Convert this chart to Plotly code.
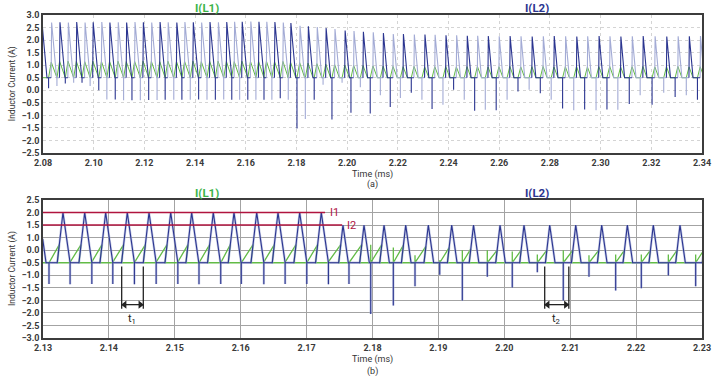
import plotly.graph_objects as go

# ================= Panel (a): 2.08 - 2.34 ms =================
A_BASE = 0.5
A_PEAK_T = [2.0796, 2.0834, 2.0867, 2.0900, 2.0933, 2.0966, 2.0998, 2.1032, 2.1064, 2.1097, 2.1130,
            2.1163, 2.1196, 2.1229, 2.1262, 2.1294, 2.1328, 2.1360, 2.1393, 2.1426, 2.1459,
            2.1492, 2.1525, 2.1556, 2.1586, 2.1620, 2.1652, 2.1683, 2.1715, 2.1748, 2.1778,
            2.1814, 2.1847, 2.1882, 2.1917, 2.1952, 2.1992, 2.2027, 2.2064, 2.2103, 2.2143,
            2.2182, 2.2222, 2.2265, 2.2307, 2.2347, 2.2390, 2.2432, 2.2474, 2.2515, 2.2557,
            2.2600, 2.2643, 2.2686, 2.2730, 2.2774, 2.2817, 2.2862, 2.2906, 2.2949, 2.2994,
            2.3037, 2.3080, 2.3125, 2.3168, 2.3215, 2.3261, 2.3306, 2.3350, 2.3394]
A_PEAK_I = [2.70,
            2.70, 2.71, 2.70, 2.72, 2.70, 2.71, 2.72, 2.70, 2.71, 2.70,
            2.72, 2.71, 2.70, 2.72, 2.71, 2.70, 2.72, 2.71, 2.70, 2.72,
            2.71, 2.72, 2.73, 2.73, 2.74, 2.73, 2.73, 2.72, 2.70,
            2.68, 2.57, 2.55, 2.52, 2.48, 2.44, 2.38, 2.36, 2.33, 2.31,
            2.28, 2.24, 2.24, 2.22, 2.22, 2.21, 2.19, 2.19, 2.17, 2.17,
            2.16, 2.15, 2.16, 2.15, 2.14, 2.15, 2.16, 2.15, 2.14, 2.15,
            2.16, 2.15, 2.14, 2.15, 2.16, 2.15, 2.14, 2.15, 2.15, 2.16]
A_SPIKE_I = [0.08, 0.17, 0.27, 0.30, 0.30, 0.17, 0.00, -0.37,
             -0.37, -0.40, -0.40, -0.40, -0.39, -0.39, -0.38, -0.38, -0.38, -0.38, -0.37, -0.38, -0.38, -0.37,
             -0.38, -0.38, -0.38, -0.38, -0.38, -0.38, -0.32, -0.38,
             -1.52, -1.15, -0.38, 0.22, -1.17, 0.30, -0.90, 0.12, -0.93, -0.20,
             -0.67, -0.31, -0.10, -0.38, -0.75, -0.58, 0.02, -0.38, -0.82, -0.78,
             -0.80, -0.38, -0.05, 0.02, -0.12, -0.38, -0.73, -0.80, -0.77, -0.80,
             -0.77, -0.78, -0.55, -0.20, -0.58, -0.10, -0.27, -0.20, -0.38]
A_GREEN_TOP = [1.12, 1.15, 1.16, 1.15, 1.14, 1.16, 1.15, 1.15, 1.16, 1.14,
               1.15, 1.16, 1.15, 1.14, 1.16, 1.15, 1.15, 1.16, 1.14, 1.15,
               1.16, 1.15, 1.14, 1.16, 1.15, 1.15, 1.16, 1.14, 1.15, 1.12,
               1.10, 1.08, 1.06, 1.04, 1.02, 1.00, 0.99, 0.98, 0.97, 0.96,
               0.95, 0.94, 0.95, 0.93, 0.94, 0.95, 0.93, 0.94, 0.95, 0.93,
               0.94, 0.95, 0.93, 0.94, 0.95, 0.93, 0.94, 0.95, 0.93, 0.94,
               0.95, 0.93, 0.94, 0.95, 0.93, 0.94, 0.95, 0.93, 0.94]
A_RISE_RATE = 11000.0   # A/ms
A_FALL_RATE = 1120.0    # A/ms
A_SPIKE_LEAD = 0.0012   # ms before next peak
A_XTICKS = [2.08, 2.10, 2.12, 2.14, 2.16, 2.18, 2.20, 2.22, 2.24, 2.26, 2.28, 2.30, 2.32, 2.34]
A_XTICKTEXT = ["2.08", "2.10", "2.12", "2.14", "2.16", "2.18", "2.20", "2.22", "2.24", "2.26",
               "2.28", "2.30", "2.32", "2.34"]
A_YTICKS = [3.0, 2.5, 2.0, 1.5, 1.0, 0.5, 0.0, -0.5, -1.0, -1.5, -2.0, -2.5]
A_YTICKTEXT = ["3.0", "2.5", "2.0", "1.5", "1.0", "0.5", "0.0", "\u22120.5", "\u22121.0", "\u22121.5",
               "\u22122.0", "\u22122.5"]

# ================= Panel (b): 2.13 - 2.23 ms =================
B_BASE = 0.0
B_PEAK_T = [2.12995, 2.13303, 2.13633, 2.13951, 2.14279, 2.14609, 2.14938, 2.15256, 2.15584, 2.15898,
            2.16243, 2.16566, 2.16895, 2.17223, 2.17552, 2.17871, 2.18175, 2.18504, 2.18847, 2.19202,
            2.19533, 2.19935, 2.20299, 2.20689, 2.21084, 2.21478, 2.21867, 2.22261, 2.22666, 2.23070]
B_PEAK_I = [0.95, 2.0, 2.0, 2.0, 2.0, 2.0, 2.0, 2.0, 2.0, 2.0,
            2.0, 2.0, 2.0, 2.0, 1.5, 1.5, 1.5, 1.5, 1.5, 1.5,
            1.5, 1.5, 1.5, 1.5, 1.5, 1.5, 1.5, 1.5, 1.5, 1.5]
B_SPIKE_T = [2.13091, 2.13405, 2.13733, 2.14052, 2.14385, 2.14710, 2.15038, 2.15367, 2.15697, 2.16009,
             2.16343, 2.16668, 2.17002, 2.17320, 2.17643, 2.17973, 2.18316, 2.18645, 2.19020, 2.19363,
             2.19742, 2.20121, 2.20501, 2.20895, 2.21285, 2.21690, 2.22079, 2.22489, 2.22904]
B_SPIKE_I = [-0.85, -0.86, -0.85, -0.85, -0.86, -0.85, -0.85, -0.86, -0.85, -0.85,
             -0.86, -0.85, -0.85, -0.86, -0.85, -2.04, -1.70, -0.94, -0.48, -1.51,
             -0.56, -0.99, -0.38, -1.51, -0.56, -1.11, -1.02, -0.51, -0.94]
B_GREEN_TICK = [0, 0, 0, 0, 0, 0, 0, 0, 0, 0,
                0, 0, 0, 0, 0, 0.72, 0.61, 0.30, 0.10, 0.50,
                0.50, 0.45, 0.33, 0.50, 0.30, 0.33, 0.33, 0.33, 0.33]
B_GREEN_TOP = [0.72, 0.72, 0.72, 0.72, 0.72, 0.72, 0.72, 0.72, 0.72, 0.72,
               0.72, 0.72, 0.72, 0.72, 0.72, 0.72, 0.70, 0.65, 0.60, 0.55,
               0.50, 0.50, 0.50, 0.50, 0.50, 0.50, 0.50, 0.50, 0.50]
B_RISE_RATE = 2300.0
B_FALL_RATE = 1850.0
B_I1 = 2.0
B_I1_END = 2.1728
B_I2 = 1.5
B_I2_END = 2.1754
B_T1 = [2.14194, 2.14522]
B_T2 = [2.20613, 2.20979]
B_MARK_Y = [-0.15, -1.83]
B_ARROW_Y = -1.67
B_LABEL_Y = -2.23
B_XTICKS = [2.13, 2.14, 2.15, 2.16, 2.17, 2.18, 2.19, 2.20, 2.21, 2.22, 2.23]
B_XTICKTEXT = ["2.13", "2.14", "2.15", "2.16", "2.17", "2.18", "2.19", "2.20", "2.21", "2.22", "2.23"]
B_YTICKS = [2.5, 2.0, 1.5, 1.0, 0.5, 0.0, -0.5, -1.0, -1.5, -2.0, -2.5, -3.0]
B_YTICKTEXT = ["2.5", "2.0", "1.5", "1.0", "0.0", "\u22120.5", "\u22121.0", "\u22121.5", "\u22122.0",
               "\u22122.0", "\u22122.5", "\u22123.0"]

DARK = "#2b3590"
LIGHT = "#a3abd5"
GREEN = "#62bb46"
GREEN_TXT = "#3cb44a"
RED = "#b0143f"
INK = "#222222"
FONT = "Roboto, Liberation Sans, sans-serif"


def blue_segments(peak_t, peak_i, spike_t, spike_i, base, rise, fall):
    segs = []
    n = len(peak_t)
    for k in range(n):
        tp, pk = peak_t[k], peak_i[k]
        xs, ys = [], []
        if k > 0:
            xs.append(tp - (pk - base) / rise)
            ys.append(base)
        xs.append(tp)
        ys.append(pk)
        fe = tp + (pk - base) / fall
        xs.append(fe)
        ys.append(base)
        if k < len(spike_t):
            ts = max(spike_t[k], fe)
            xs += [ts, ts, ts]
            ys += [base, spike_i[k], base]
        if k + 1 < n:
            xs.append(peak_t[k + 1] - (peak_i[k + 1] - base) / rise)
            ys.append(base)
        segs.append((xs, ys))
    return segs


fig = go.Figure()

# ---------- panel (a) ----------
a_spike_t = [A_PEAK_T[k + 1] - A_SPIKE_LEAD for k in range(len(A_PEAK_T) - 1)]
gx, gy = [2.075], [A_BASE]
for k in range(len(a_spike_t)):
    tp1, pk1 = A_PEAK_T[k + 1], A_PEAK_I[k + 1]
    gt = A_GREEN_TOP[k]
    tm = tp1 - (pk1 - gt) / A_RISE_RATE
    fe = tp1 + (pk1 - A_BASE) / A_FALL_RATE
    gx += [a_spike_t[k], tm, fe]
    gy += [A_BASE, gt, A_BASE]
gx.append(2.345)
gy.append(A_BASE)
fig.add_trace(go.Scatter(x=gx, y=gy, mode="lines", line=dict(color=GREEN, width=1.0),
                         xaxis="x", yaxis="y", hoverinfo="skip"))
segs = blue_segments(A_PEAK_T, A_PEAK_I, a_spike_t, A_SPIKE_I, A_BASE, A_RISE_RATE, A_FALL_RATE)
for parity, col in ((1, LIGHT), (0, DARK)):
    bx, by = [], []
    for k, (xs, ys) in enumerate(segs):
        if k % 2 == parity:
            bx += xs + [None]
            by += ys + [None]
    fig.add_trace(go.Scatter(x=bx, y=by, mode="lines", line=dict(color=col, width=1.1),
                             xaxis="x", yaxis="y", hoverinfo="skip"))

# ---------- panel (b) ----------
gx, gy = [2.125], [B_BASE]
for k in range(len(B_SPIKE_T)):
    ts = B_SPIKE_T[k]
    tp1, pk1 = B_PEAK_T[k + 1], B_PEAK_I[k + 1]
    gt = B_GREEN_TOP[k]
    rs = tp1 - (pk1 - B_BASE) / B_RISE_RATE
    tm = tp1 - (pk1 - gt) / B_RISE_RATE
    gx.append(ts)
    gy.append(B_BASE)
    if B_GREEN_TICK[k] > 0:
        gx += [ts, ts]
        gy += [B_GREEN_TICK[k], B_BASE]
    gx += [tm, rs]
    gy += [gt, B_BASE]
gx.append(2.235)
gy.append(B_BASE)
fig.add_trace(go.Scatter(x=gx, y=gy, mode="lines", line=dict(color=GREEN, width=1.3),
                         xaxis="x2", yaxis="y2", hoverinfo="skip"))
segs = blue_segments(B_PEAK_T, B_PEAK_I, B_SPIKE_T, B_SPIKE_I, B_BASE, B_RISE_RATE, B_FALL_RATE)
bx, by = [], []
for xs, ys in segs:
    bx += xs
    by += ys
fig.add_trace(go.Scatter(x=bx, y=by, mode="lines", line=dict(color=LIGHT, width=2.4),
                         opacity=0.6, xaxis="x2", yaxis="y2", hoverinfo="skip"))
fig.add_trace(go.Scatter(x=bx, y=by, mode="lines", line=dict(color=DARK, width=1.1),
                         xaxis="x2", yaxis="y2", hoverinfo="skip"))

fig.add_trace(go.Scatter(x=[2.13, B_I1_END, None, 2.13, B_I2_END], y=[B_I1, B_I1, None, B_I2, B_I2],
                         mode="lines", line=dict(color=RED, width=1.5),
                         xaxis="x2", yaxis="y2", hoverinfo="skip"))

# t1 / t2 dimension markers
mx, my = [], []
for tt in B_T1 + B_T2:
    mx += [tt, tt, None]
    my += [B_MARK_Y[0], B_MARK_Y[1], None]
for pair in (B_T1, B_T2):
    mx += [pair[0], pair[1], None]
    my += [B_ARROW_Y, B_ARROW_Y, None]
fig.add_trace(go.Scatter(x=mx, y=my, mode="lines", line=dict(color=INK, width=1.3),
                         xaxis="x2", yaxis="y2", hoverinfo="skip"))
head_off = 0.00045
hx = [B_T1[0] + head_off, B_T2[0] + head_off, B_T1[1] - head_off, B_T2[1] - head_off]
hy = [B_ARROW_Y] * 4
hs = ["triangle-left", "triangle-left", "triangle-right", "triangle-right"]
fig.add_trace(go.Scatter(x=hx, y=hy, mode="markers",
                         marker=dict(symbol=hs, size=7, color=INK, line=dict(width=0)),
                         xaxis="x2", yaxis="y2", hoverinfo="skip"))

annotations = []
for pair, lab in ((B_T1, "t<sub>1</sub>"), (B_T2, "t<sub>2</sub>")):
    mid = (pair[0] + pair[1]) / 2
    annotations.append(dict(x=mid, y=B_LABEL_Y, xref="x2", yref="y2", text=lab, showarrow=False,
                            yanchor="middle", font=dict(family=FONT, size=11, color=INK)))
annotations.append(dict(x=B_I1_END, y=B_I1, xref="x2", yref="y2", text="I1", showarrow=False,
                        xanchor="left", yanchor="middle", xshift=3,
                        font=dict(family=FONT, size=11, color=RED)))
annotations.append(dict(x=B_I2_END, y=B_I2, xref="x2", yref="y2", text="I2", showarrow=False,
                        xanchor="left", yanchor="middle", xshift=3,
                        font=dict(family=FONT, size=11, color=RED)))

for yy in (1.0217, 0.4489):
    annotations.append(dict(x=0.2489, y=yy, xref="paper", yref="paper", text="<b>I(L1)</b>",
                            showarrow=False, xanchor="center", yanchor="middle",
                            font=dict(family=FONT, size=11.5, color=GREEN_TXT)))
    annotations.append(dict(x=0.7496, y=yy, xref="paper", yref="paper", text="<b>I(L2)</b>",
                            showarrow=False, xanchor="center", yanchor="middle",
                            font=dict(family=FONT, size=11.5, color=DARK)))
for yt, yl, lab in ((0.5077, 0.4737, "(a)"), (-0.0681, -0.1022, "(b)")):
    annotations.append(dict(x=0.5, y=yt, xref="paper", yref="paper", text="Time (ms)",
                            showarrow=False, xanchor="center", yanchor="middle",
                            font=dict(family=FONT, size=9, color="#333333")))
    annotations.append(dict(x=0.5, y=yl, xref="paper", yref="paper", text=lab,
                            showarrow=False, xanchor="center", yanchor="middle",
                            font=dict(family=FONT, size=9, color="#333333")))
for yy in (0.786, 0.2136):
    annotations.append(dict(x=-0.047, y=yy, xref="paper", yref="paper", text="Inductor Current (A)",
                            textangle=-90, showarrow=False, xanchor="center", yanchor="middle",
                            font=dict(family=FONT, size=8.5, color="#333333")))

tickfont = dict(family=FONT, size=9, color="#3a3a3a", weight="bold")
common = dict(showline=True, mirror=True, linecolor="#3c3c3c", linewidth=1.5, ticks="",
              zeroline=False, tickfont=tickfont, showgrid=True, automargin=False)

fig.update_layout(
    width=719, height=377,
    margin=dict(l=43, r=17, t=15, b=39),
    paper_bgcolor="white", plot_bgcolor="white",
    showlegend=False,
    annotations=annotations,
    xaxis=dict(domain=[0, 1], anchor="y", range=[2.08, 2.34], tickvals=A_XTICKS, ticktext=A_XTICKTEXT,
               gridcolor="#d4d4d4", griddash="dot", gridwidth=1, **common),
    yaxis=dict(domain=[0.5728, 1.0], anchor="x", range=[-2.5, 3.0], tickvals=A_YTICKS,
               ticktext=A_YTICKTEXT, gridcolor="#d4d4d4", griddash="dot", gridwidth=1, **common),
    xaxis2=dict(domain=[0, 1], anchor="y2", range=[2.13, 2.23], tickvals=B_XTICKS, ticktext=B_XTICKTEXT,
                gridcolor="#a3a3a3", gridwidth=1, **common),
    yaxis2=dict(domain=[0, 0.4272], anchor="x2", range=[-3.0, 2.5], tickvals=B_YTICKS,
                ticktext=B_YTICKTEXT, gridcolor="#a3a3a3", gridwidth=1, **common),
)

fig.write_html("out.html", config={"displayModeBar": False},
               post_script="document.body.style.margin='0';document.body.style.overflow='hidden';")
